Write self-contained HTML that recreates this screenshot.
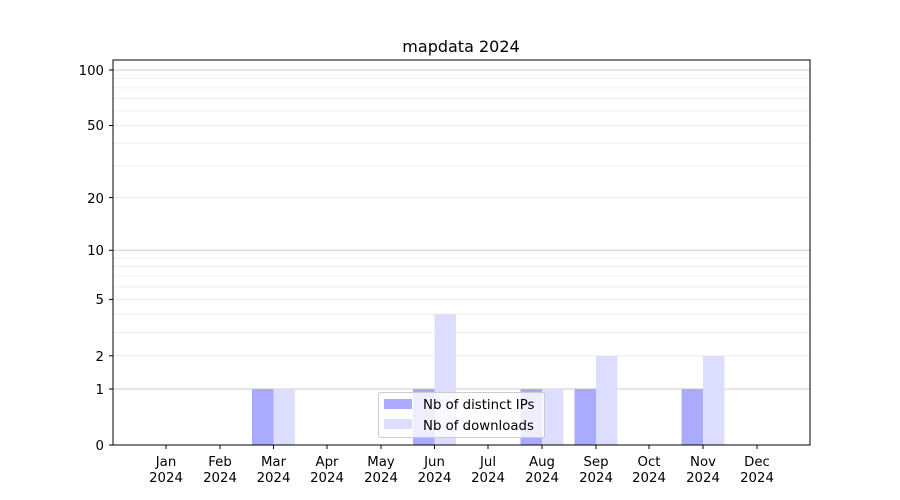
<!DOCTYPE html>
<html><head><meta charset="utf-8"><style>body{margin:0;background:#fff}svg{display:block}text{font-family:"DejaVu Sans","Liberation Sans",sans-serif;font-size:13.3px;fill:#000}</style></head><body>
<svg width="900" height="500" xmlns="http://www.w3.org/2000/svg">
<g stroke="#ebebeb" stroke-width="0.8">
<line x1="113" x2="810" y1="355.8" y2="355.8"/><line x1="113" x2="810" y1="332.4" y2="332.4"/><line x1="113" x2="810" y1="314.2" y2="314.2"/><line x1="113" x2="810" y1="299.4" y2="299.4"/><line x1="113" x2="810" y1="286.9" y2="286.9"/><line x1="113" x2="810" y1="276" y2="276"/><line x1="113" x2="810" y1="266.5" y2="266.5"/><line x1="113" x2="810" y1="257.9" y2="257.9"/>
<line x1="113" x2="810" y1="197.6" y2="197.6"/><line x1="113" x2="810" y1="165.9" y2="165.9"/><line x1="113" x2="810" y1="143.2" y2="143.2"/><line x1="113" x2="810" y1="125.5" y2="125.5"/><line x1="113" x2="810" y1="111" y2="111"/><line x1="113" x2="810" y1="98.6" y2="98.6"/><line x1="113" x2="810" y1="87.9" y2="87.9"/><line x1="113" x2="810" y1="78.4" y2="78.4"/>
</g>
<g stroke="#cccccc" stroke-width="1"><line x1="113" x2="810" y1="389" y2="389"/><line x1="113" x2="810" y1="250.3" y2="250.3"/><line x1="113" x2="810" y1="70" y2="70"/></g>
<g fill="#aaaaff">
<rect x="252" y="389" width="21.5" height="56"/><rect x="413" y="389" width="21.5" height="56"/><rect x="520.5" y="389" width="21.5" height="56"/><rect x="574.5" y="389" width="21.5" height="56"/><rect x="681.5" y="389" width="21.5" height="56"/>
</g>
<g fill="#ddddff">
<rect x="273.5" y="389" width="21.5" height="56"/><rect x="434.5" y="314.2" width="21.5" height="130.8"/><rect x="542" y="389" width="21.5" height="56"/><rect x="596" y="355.8" width="21.5" height="89.2"/><rect x="703" y="355.8" width="21.5" height="89.2"/>
</g>
<rect x="113" y="60" width="697" height="385" fill="none" stroke="#000" stroke-width="1"/>
<g stroke="#000"><line x1="113" x2="109" y1="445" y2="445"/><line x1="113" x2="109" y1="389" y2="389"/><line x1="113" x2="109" y1="355.8" y2="355.8"/><line x1="113" x2="109" y1="299.4" y2="299.4"/><line x1="113" x2="109" y1="250.3" y2="250.3"/><line x1="113" x2="109" y1="197.6" y2="197.6"/><line x1="113" x2="109" y1="125.5" y2="125.5"/><line x1="113" x2="109" y1="70" y2="70"/>
<line x1="166" x2="166" y1="445" y2="449"/><line x1="220" x2="220" y1="445" y2="449"/><line x1="273.5" x2="273.5" y1="445" y2="449"/><line x1="327" x2="327" y1="445" y2="449"/><line x1="381" x2="381" y1="445" y2="449"/><line x1="434.5" x2="434.5" y1="445" y2="449"/><line x1="488" x2="488" y1="445" y2="449"/><line x1="542" x2="542" y1="445" y2="449"/><line x1="596" x2="596" y1="445" y2="449"/><line x1="649" x2="649" y1="445" y2="449"/><line x1="703" x2="703" y1="445" y2="449"/><line x1="757" x2="757" y1="445" y2="449"/></g>
<g text-anchor="end"><text x="104" y="450">0</text><text x="104" y="394">1</text><text x="104" y="361">2</text><text x="104" y="304">5</text><text x="104" y="255">10</text><text x="104" y="203">20</text><text x="104" y="130">50</text><text x="104" y="75">100</text></g>
<g text-anchor="middle">
<text x="166" y="466">Jan</text><text x="166" y="482">2024</text>
<text x="220" y="466">Feb</text><text x="220" y="482">2024</text>
<text x="273.5" y="466">Mar</text><text x="273.5" y="482">2024</text>
<text x="327" y="466">Apr</text><text x="327" y="482">2024</text>
<text x="381" y="466">May</text><text x="381" y="482">2024</text>
<text x="434.5" y="466">Jun</text><text x="434.5" y="482">2024</text>
<text x="488" y="466">Jul</text><text x="488" y="482">2024</text>
<text x="542" y="466">Aug</text><text x="542" y="482">2024</text>
<text x="596" y="466">Sep</text><text x="596" y="482">2024</text>
<text x="649" y="466">Oct</text><text x="649" y="482">2024</text>
<text x="703" y="466">Nov</text><text x="703" y="482">2024</text>
<text x="757" y="466">Dec</text><text x="757" y="482">2024</text>
<text x="461" y="52" style="font-size:16px">mapdata 2024</text>
</g>
<rect x="378.5" y="392.5" width="166" height="45" rx="2" fill="#fff" fill-opacity="0.8" stroke="#cccccc"/>
<rect x="384" y="399" width="28" height="10" fill="#aaaaff"/>
<rect x="384" y="419" width="28" height="10" fill="#ddddff"/>
<text x="423" y="409">Nb of distinct IPs</text>
<text x="423" y="430">Nb of downloads</text>
</svg>
</body></html>
